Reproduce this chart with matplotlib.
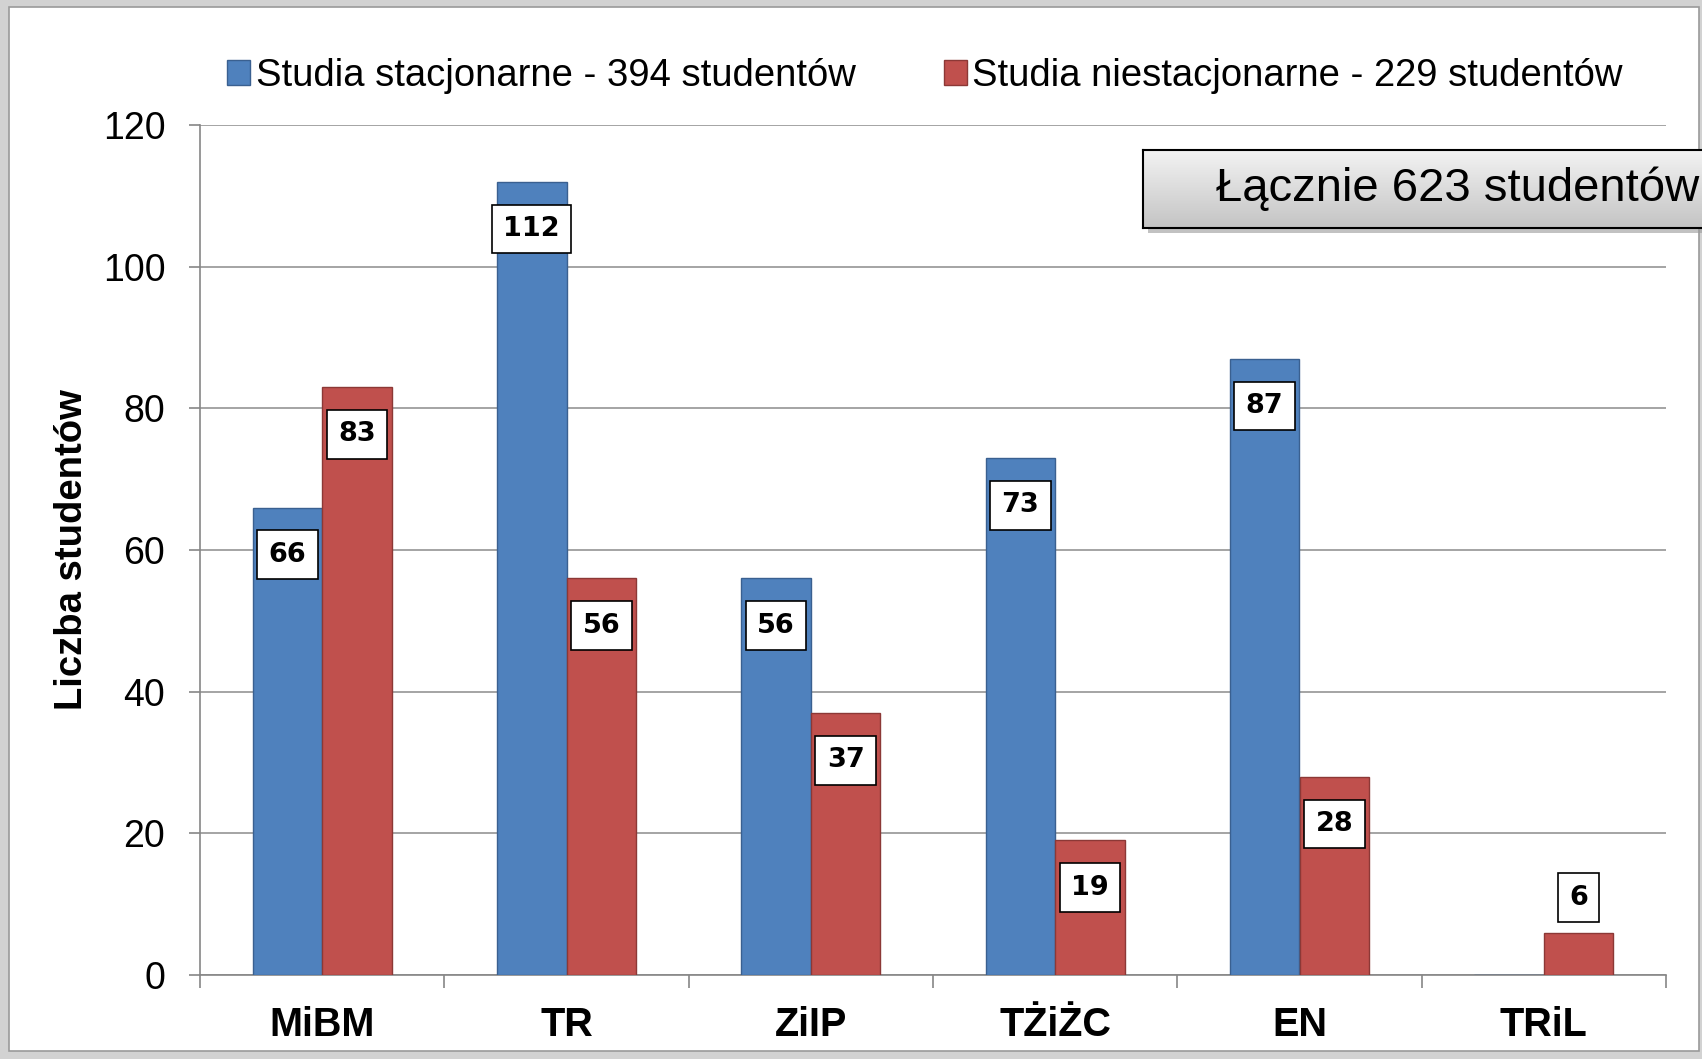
import numpy as np
import matplotlib.pyplot as plt
from matplotlib.patches import Rectangle
from matplotlib.colors import LinearSegmentedColormap

# dane z wykresu
kierunki = ['MiBM', 'TR', 'ZiIP', 'TŻiŻC', 'EN', 'TRiL']
stacjonarne = [66, 112, 56, 73, 87, 0]
niestacjonarne = [83, 56, 37, 19, 28, 6]
etykiety = ['Studia stacjonarne - 394 studentów', 'Studia niestacjonarne - 229 studentów']
razem = 'Łącznie 623 studentów'

plt.rcParams['font.family'] = ['Liberation Sans', 'DejaVu Sans']

W, H = 1702, 1059
fig = plt.figure(figsize=(W / 100, H / 100), dpi=100, facecolor='#d2d2d2')

# ramka wokol wykresu
fig.patches.append(Rectangle((9 / W, 8 / H), (W - 12) / W, (H - 15) / H,
                             transform=fig.transFigure, facecolor='white',
                             edgecolor='#9a9a9a', linewidth=1.2, zorder=-10))

ax = fig.add_axes([200 / W, 1 - 975 / H, (1666 - 200) / W, (975 - 125) / H])
ax.set_facecolor('none')

x = np.arange(len(kierunki))
w = 0.285
b1 = ax.bar(x - w / 2, stacjonarne, w, color='#4F81BD', edgecolor='#3a6090',
            linewidth=1, label=etykiety[0], zorder=3)
b2 = ax.bar(x + w / 2, niestacjonarne, w, color='#C0504D', edgecolor='#8c3836',
            linewidth=1, label=etykiety[1], zorder=3)


def podpisz(bars, vals):
    for r, v in zip(bars, vals):
        if v == 0:
            continue
        off = -34 if v >= 10 else 25
        ax.annotate(str(v), (r.get_x() + r.get_width() / 2, v),
                    xytext=(0, off), textcoords='offset points',
                    ha='center', va='center', fontsize=19.5, fontweight='bold',
                    family='DejaVu Sans', zorder=5,
                    bbox=dict(boxstyle='square,pad=0.42', fc='white',
                              ec='black', lw=1.2))


podpisz(b1, stacjonarne)
podpisz(b2, niestacjonarne)

ax.set_xlim(-0.5, len(kierunki) - 0.5)
ax.set_ylim(0, 120)
ax.set_yticks(range(0, 121, 20))
ax.yaxis.grid(True, color='#8c8c8c', linewidth=1.1, zorder=0)
ax.set_axisbelow(True)

ax.set_xticks(x)
ax.set_xticklabels(kierunki, fontsize=28.5, fontweight='bold')
ax.set_xticks(np.arange(-0.5, len(kierunki), 1), minor=True)
ax.tick_params(axis='x', which='major', length=0, pad=22)
ax.tick_params(axis='x', which='minor', length=9, color='#868686', width=1.2)
ax.tick_params(axis='y', labelsize=27, length=8, color='#868686', width=1.2, pad=17)

for s in ['top', 'right']:
    ax.spines[s].set_visible(False)
for s in ['left', 'bottom']:
    ax.spines[s].set_color('#868686')
    ax.spines[s].set_linewidth(1.2)

fig.text(72 / W, 1 - 550 / H, 'Liczba studentów', rotation=90, ha='center',
         va='center', fontsize=27.5, fontweight='bold')

leg = fig.legend(loc='center', bbox_to_anchor=(925 / W, 1 - 76 / H), ncol=2,
                 frameon=False, fontsize=27.5, handlelength=0.6, handleheight=0.6,
                 handletextpad=0.15, columnspacing=2.3)

# ramka z suma
bx0, by0, bh = 1143 / W, 1 - 228 / H, 78 / H
fig.patches.append(Rectangle((bx0 + 5 / W, by0 - 5 / H), 0.5, bh,
                             transform=fig.transFigure, facecolor='#9a9a9a',
                             edgecolor='none', alpha=0.6, zorder=-5))
bax = fig.add_axes([bx0, by0, 0.5, bh], zorder=3)
grad = np.linspace(0, 1, 100).reshape(-1, 1)
bax.imshow(grad, aspect='auto', cmap=LinearSegmentedColormap.from_list(
    'g', ['#f3f3f3', '#c4c4c4']), extent=[0, 1, 0, 1], origin='upper')
bax.set_xticks([])
bax.set_yticks([])
for s in bax.spines.values():
    s.set_color('black')
    s.set_linewidth(1.5)
fig.text(1216 / W, by0 + bh / 2, razem, ha='left', va='center', fontsize=34,
         zorder=5)

fig.savefig('out.png', dpi=100, facecolor=fig.get_facecolor())
